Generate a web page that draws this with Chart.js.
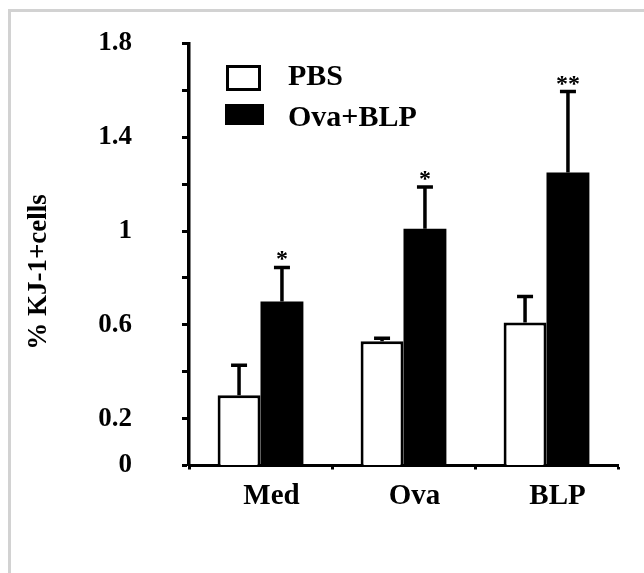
<!DOCTYPE html>
<html>
<head>
<meta charset="utf-8">
<script src="https://cdn.jsdelivr.net/npm/chart.js@4.4.0/dist/chart.umd.min.js"></script>
<style>
  html, body { margin: 0; padding: 0; background: #fff; overflow: hidden; }
  #wrap { position: relative; width: 644px; height: 573px; overflow: hidden; }
  #frame { position: absolute; left: 8px; top: 9px; right: -10px; bottom: -10px;
           border-left: 3px solid #d2d2d2; border-top: 3px solid #d2d2d2; pointer-events: none; }
  #kjChart { position: absolute; left: 0; top: 0; }
</style>
</head>
<body>
<div id="wrap">
  <canvas id="kjChart" width="644" height="573"></canvas>
  <div id="frame"></div>
</div>
<script>
// data
const categories = ['Med', 'Ova', 'BLP'];
const seriesNames = ['PBS', 'Ova+BLP'];
const pbsMeans = [0.30, 0.53, 0.61];
const pbsErr = [0.128, 0.013, 0.111];
const ovaBlpMeans = [0.70, 1.01, 1.25];
const ovaBlpErr = [0.145, 0.178, 0.345];
const ovaBlpStars = ['*', '*', '**'];
const yTickLabels = ['0', '0.2', '0.6', '1', '1.4', '1.8'];
const yTitle = '% KJ-1+cells';

const serif = '"Liberation Serif", "Times New Roman", serif';

// error bars (upward only) + significance stars
const errorBars = {
  id: 'errorBars',
  afterDatasetsDraw(chart) {
    const ctx = chart.ctx;
    const y = chart.scales.y;
    ctx.save();
    chart.data.datasets.forEach((ds, i) => {
      const meta = chart.getDatasetMeta(i);
      meta.data.forEach((bar, j) => {
        const top = y.getPixelForValue(ds.data[j] + ds.errors[j]);
        ctx.strokeStyle = '#000';
        ctx.lineWidth = 3.5;
        ctx.beginPath();
        ctx.moveTo(bar.x, bar.y);
        ctx.lineTo(bar.x, top);
        ctx.moveTo(bar.x - 8, top);
        ctx.lineTo(bar.x + 8, top);
        ctx.stroke();
        if (ds.stars && ds.stars[j]) {
          ctx.fillStyle = '#000';
          ctx.font = 'bold 24px ' + serif;
          ctx.textAlign = 'center';
          ctx.textBaseline = 'alphabetic';
          ctx.fillText(ds.stars[j], bar.x, top - 1);
        }
      });
    });
    ctx.restore();
  }
};

// legend inside the plot + rotated axis title
const extras = {
  id: 'extras',
  afterDraw(chart) {
    const ctx = chart.ctx;
    ctx.save();
    const sets = chart.data.datasets;
    // PBS box
    ctx.fillStyle = sets[0].backgroundColor;
    ctx.fillRect(226, 65, 35, 26);
    ctx.strokeStyle = '#000';
    ctx.lineWidth = 3;
    ctx.strokeRect(227.5, 66.5, 32, 23);
    // Ova+BLP box
    ctx.fillStyle = sets[1].backgroundColor;
    ctx.fillRect(225, 104, 39, 21);

    ctx.fillStyle = '#000';
    ctx.font = 'bold 30px ' + serif;
    ctx.textAlign = 'left';
    ctx.textBaseline = 'middle';
    ctx.fillText(sets[0].label, 288, 77);
    ctx.fillText(sets[1].label, 288, 118);

    ctx.translate(39, 272);
    ctx.rotate(-Math.PI / 2);
    ctx.textAlign = 'center';
    ctx.font = 'bold 27px ' + serif;
    ctx.fillText(yTitle, 0, 0);
    ctx.restore();
  }
};

const ctx = document.getElementById('kjChart').getContext('2d');
const chart = new Chart(ctx, {
  type: 'bar',
  data: {
    labels: categories,
    datasets: [
      {
        label: seriesNames[0],
        data: pbsMeans,
        errors: pbsErr,
        backgroundColor: '#ffffff',
        borderColor: '#000000',
        borderWidth: 3,
        borderSkipped: 'bottom'
      },
      {
        label: seriesNames[1],
        data: ovaBlpMeans,
        errors: ovaBlpErr,
        stars: ovaBlpStars,
        backgroundColor: '#000000',
        borderWidth: 0
      }
    ]
  },
  options: {
    responsive: false,
    animation: false,
    datasets: { bar: { categoryPercentage: 0.6, barPercentage: 1.0 } },
    layout: { padding: { left: 0, top: 43.5, right: 26, bottom: 0 } },
    plugins: {
      legend: { display: false },
      tooltip: { enabled: false }
    },
    scales: {
      x: {
        offset: true,
        grid: {
          offset: true,
          drawOnChartArea: false,
          tickLength: 4,
          tickWidth: 3,
          tickColor: '#000'
        },
        border: { color: '#000', width: 3 },
        ticks: {
          color: '#000',
          padding: 10,
          labelOffset: 11,
          font: { family: serif, size: 29, weight: 'bold' }
        },
        afterFit(scale) {
          scale.height = 107.5;
          scale.paddingLeft = 0;
          scale.paddingRight = 0;
        }
      },
      y: {
        min: 0,
        max: 1.8,
        ticks: {
          stepSize: 0.2,
          color: '#000',
          padding: 50,
          font: { family: serif, size: 27, weight: 'bold' },
          callback: v => {
            const lbl = String(Math.round(v * 10) / 10);
            return yTickLabels.includes(lbl) ? lbl : '';
          }
        },
        grid: {
          drawOnChartArea: false,
          tickLength: 7,
          tickWidth: 3,
          tickColor: '#000'
        },
        border: { color: '#000', width: 3.5 },
        afterFit(scale) {
          scale.width = 189;
          scale.paddingTop = 0;
          scale.paddingBottom = 0;
        }
      }
    }
  },
  plugins: [errorBars, extras]
});
</script>
</body>
</html>
